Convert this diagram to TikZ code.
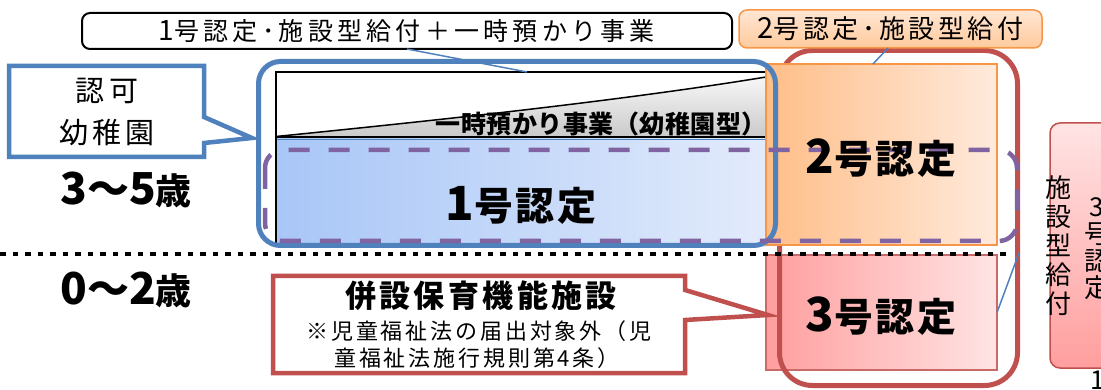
\documentclass[tikz,border=0pt]{standalone}
\usepackage{fontspec}
\setmainfont{Noto Sans CJK JP}
\definecolor{obl}{HTML}{4F81BD}
\definecolor{ored}{HTML}{C0504D}
\definecolor{opur}{HTML}{8064A2}
\definecolor{oora}{HTML}{F79646}
\definecolor{blueA}{HTML}{A8C6F7}
\definecolor{blueB}{HTML}{E2EBFB}
\definecolor{oraA}{HTML}{FFBE88}
\definecolor{oraB}{HTML}{FFEADC}
\definecolor{pinkA}{HTML}{FF9E9E}
\definecolor{pinkB}{HTML}{FFE4E4}
\definecolor{coT}{HTML}{FFE6D3}
\definecolor{coB}{HTML}{FFCA9C}
\newcommand\ftx[3]{\fontsize{#1}{#2}\selectfont\addfontfeature{LetterSpace=#3}}
\newcommand\bigdg[2]{{\fontsize{#1}{#1}\selectfont #2}}
\tikzset{
  thinblue/.style={draw=obl, line width=1.5},
  lbl/.style={inner sep=0, outer sep=0},
  bigbold/.style={lbl, font=\bfseries\ftx{39}{44}{6}},
  agelbl/.style={lbl, font=\bfseries\ftx{36}{40}{3}},
}
\begin{document}
\begin{tikzpicture}[x=1pt,y=-1pt]
\useasboundingbox (0,0) rectangle (1101,390);
% chart area
\fill[white] (276,72) rectangle (766,137);
\shade[top color=gray!6, bottom color=gray!42] (276,136.5) .. controls (430,121) and (620,101) .. (766,77) -- (766,137) -- (276,137) -- cycle;
\shade[left color=blueA, right color=blueB] (276,138) rectangle (766,247);
\draw[obl, line width=1] (276,139.5) -- (766,139.5);
\draw[line width=1.5] (766,72) -- (276,72) -- (276,247);
\draw[line width=1.5] (276,137) -- (766,137);
\draw[line width=1.5] (276,136.5) .. controls (430,121) and (620,101) .. (766,77);
% 3号 box
\node[draw=ored!85, line width=1.2, left color=pinkA, right color=pinkB, minimum width=231pt, minimum height=115pt, lbl] (b3) at (881.5,312.5) {};
% red rounded group
\draw[ored, line width=5, rounded corners=33] (779.5,50.5) rectangle (1017.5,385.5);
% 2号 box
\node[draw=oora, line width=1.5, left color=oraA, right color=oraB, minimum width=231pt, minimum height=181pt, lbl] (b2) at (881.5,154.5) {};
% blue group
\draw[obl, line width=5, rounded corners=22] (258.5,61.5) rectangle (775.5,245.5);
% purple dashed group
\draw[opur, line width=4.5, dash pattern=on 21pt off 19pt, rounded corners=18] (265,150) rectangle (1017,241);
% dotted separator
\draw[line width=4.5, dash pattern=on 5.5pt off 7pt] (0,254) -- (1008,254);
% top callout
\node[draw, line width=2, fill=white, rounded corners=8, minimum width=650pt, minimum height=36pt, lbl, font=\ftx{25}{30}{17}] (c1) at (407,31) {\bigdg{28}{1}号認定･施設型給付＋一時預かり事業};
\coordinate (c1tip) at (527,72);
\draw[thinblue] (c1.south) -- (c1tip);
% orange callout
\node[draw=oora, line width=1.5, top color=coT, bottom color=coB, rounded corners=8, minimum width=303pt, minimum height=38pt, lbl, font=\ftx{26}{30}{14}] (c2) at (890.5,29) {\bigdg{29}{2}号認定･施設型給付};
\coordinate (c2tip) at (873,64);
\draw[thinblue] (888,48) -- (c2tip);
% 認可幼稚園 callout
\draw[obl, line width=4.5, fill=white] (9,66) -- (204,66) -- (204,117) -- (252,138) -- (204,143) -- (204,157) -- (9,157) -- cycle;
\node[lbl, align=center, font=\ftx{29}{42}{14}] (k1) at (107,112) {認可\\幼稚園};
% 併設 callout
\draw[ored, line width=4.5, fill=white] (273,276) -- (685,276) -- (685,290) -- (768,315) -- (685,320) -- (685,373) -- (273,373) -- cycle;
\node[lbl, font=\bfseries\ftx{31}{36}{11}] (r1) at (481,296) {併設保育機能施設};
\node[lbl, font=\ftx{22}{26}{13}] (r2) at (479,331) {※児童福祉法の届出対象外（児};
\node[lbl, font=\ftx{22}{26}{13}] (r3) at (477,358) {童福祉法施行規則第4条）};
% right pink box
\path[draw=ored, line width=1.5, top color=pinkB, bottom color=pinkA, rounded corners=10] (1050,123) rectangle (1140,368);
\node[lbl, align=center, font=\ftx{26}{29}{0}] (v1) at (1058,245.5) {施\\設\\型\\給\\付};
\node[lbl, align=center, font=\ftx{26}{27}{0}] (v2) at (1097,249) {3\\号\\認\\定};
\node[lbl, anchor=west, font=\ftx{26}{30}{0}] (pg) at (1090,380) {1};
\coordinate (rr) at (1019,253);
\draw[thinblue] (b3.east) -- (rr);
% labels
\node[lbl, font=\bfseries\ftx{25}{30}{2}] (ichiji) at (601,124) {一時預かり事業（幼稚園型）};
\node[bigbold] (n1) at (521,205) {\bigdg{47}{1}号認定};
\node[bigbold] (n2) at (881,158) {\bigdg{47}{2}号認定};
\node[bigbold] (n3) at (881,316) {\bigdg{47}{3}号認定};
\node[agelbl] (a35) at (126,190) {\bigdg{44}{3}\bigdg{42}{～}\bigdg{44}{5}歳};
\node[agelbl] (a02) at (126,290) {\bigdg{44}{0}\bigdg{42}{～}\bigdg{44}{2}歳};
\end{tikzpicture}
\end{document}
